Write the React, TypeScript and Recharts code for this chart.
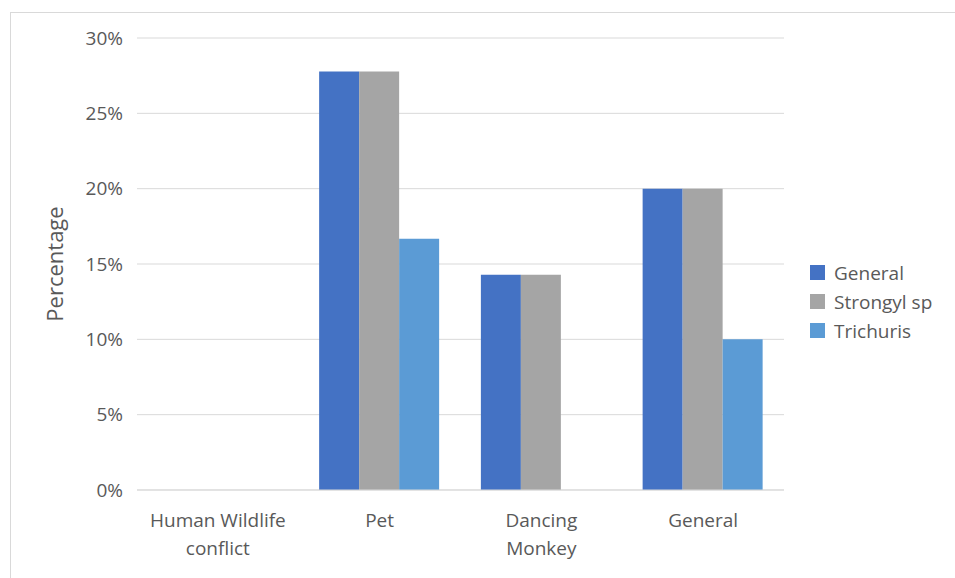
import React from 'react';
import { BarChart, Bar, XAxis, YAxis, CartesianGrid, Legend } from 'recharts';

const categories = ['Human Wildlife conflict', 'Pet', 'Dancing Monkey', 'General'];
const generalValues = [0, 27.78, 14.29, 20];
const strongylValues = [0, 27.78, 14.29, 20];
const trichurisValues = [0, 16.67, 0, 10];
const yTicks = [0, 5, 10, 15, 20, 25, 30];

const SERIES = [
    { key: 'general', name: 'General', color: '#4472C4', values: generalValues },
    { key: 'strongyl', name: 'Strongyl sp', color: '#A5A5A5', values: strongylValues },
    { key: 'trichuris', name: 'Trichuris', color: '#5B9BD5', values: trichurisValues },
];

const FONT = '"Open Sans", sans-serif';
const TEXT = '#595959';

const chartData = categories.map((name, i) => {
    const row: any = { name };
    SERIES.forEach(s => { row[s.key] = s.values[i]; });
    return row;
});

// splits long category names in two lines like the original
const wrapLabel = (label: string): string[] => {
    if (label === 'Human Wildlife conflict') return ['Human Wildlife', 'conflict'];
    if (label === 'Dancing Monkey') return ['Dancing', 'Monkey'];
    return [label];
};

const CategoryTick = (props: any) => {
    const { x, y, payload } = props;
    const lines = wrapLabel(payload.value);
    return (
        <text x={x} y={y} textAnchor="middle" fill={TEXT} fontSize={19} fontFamily={FONT}>
            {lines.map((line, i) => (
                <tspan key={i} x={x} dy={i === 0 ? 29 : 28}>{line}</tspan>
            ))}
        </text>
    );
};

const LegendList = () => (
    <div style={{ fontFamily: FONT, fontSize: 19, color: TEXT }}>
        {SERIES.map(s => (
            <div key={s.key} style={{ display: 'flex', alignItems: 'center', height: 29 }}>
                <span style={{ width: 15, height: 15, background: s.color, marginRight: 9, display: 'inline-block' }} />
                <span>{s.name}</span>
            </div>
        ))}
    </div>
);

export default function App() {
    return (
        <div style={{ position: 'absolute', left: 0, top: 0, width: 955, height: 578, background: '#fff', overflow: 'hidden' }}>
            <div style={{ position: 'absolute', left: 10, top: 12, width: 1000, height: 600, borderLeft: '1px solid #D9D9D9', borderTop: '1px solid #D9D9D9' }} />
            <BarChart
                width={955}
                height={578}
                data={chartData}
                margin={{ top: 38, right: 31, left: 0, bottom: 0 }}
                barGap={0}
                barCategoryGap="12.6%"
            >
                <CartesianGrid vertical={false} stroke="#D9D9D9" strokeWidth={1} />
                <XAxis
                    dataKey="name"
                    height={88}
                    tick={<CategoryTick />}
                    tickLine={false}
                    axisLine={{ stroke: '#D9D9D9' }}
                    interval={0}
                />
                <YAxis
                    width={137}
                    domain={[0, 30]}
                    ticks={yTicks}
                    tickFormatter={(v: number) => `${v}%`}
                    tickLine={false}
                    axisLine={false}
                    tickMargin={8}
                    tick={{ fill: TEXT, fontSize: 19, fontFamily: FONT }}
                    label={{ value: 'Percentage', angle: -90, position: 'insideLeft', offset: 55, fill: TEXT, fontSize: 22, fontFamily: FONT, style: { textAnchor: 'middle' } }}
                />
                <Legend
                    layout="vertical"
                    align="right"
                    verticalAlign="middle"
                    width={140}
                    content={<LegendList />}
                    wrapperStyle={{ left: 810, top: 258 }}
                />
                {SERIES.map(s => (
                    <Bar key={s.key} dataKey={s.key} name={s.name} fill={s.color} isAnimationActive={false} />
                ))}
            </BarChart>
        </div>
    );
}
